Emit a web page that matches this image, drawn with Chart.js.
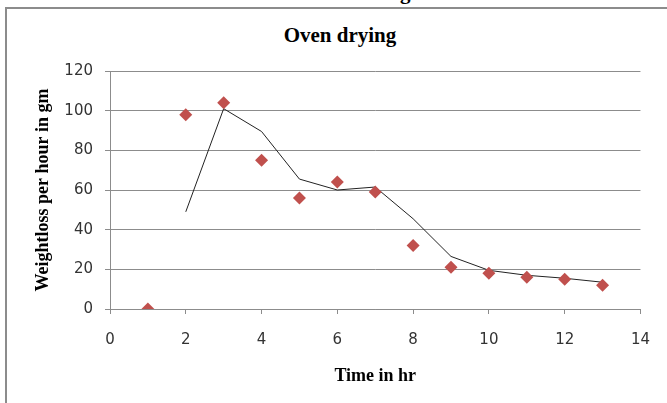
<!DOCTYPE html>
<html>
<head>
<meta charset="utf-8">
<script src="https://cdn.jsdelivr.net/npm/chart.js@4"></script>
<style>
  html, body { margin: 0; padding: 0; background: #fff; }
  #wrap { position: relative; width: 667px; height: 403px; overflow: hidden; }
  #frame { position: absolute; left: 5px; top: 7px; width: 700px; height: 500px;
           border-left: 2px solid #8c8c8c; border-top: 2px solid #8c8c8c; }
  #title { position: absolute; left: 0; width: 680px; top: 25px; text-align: center;
           font: bold 21px "Liberation Serif", serif; line-height: 21px; color: #000; }
  #cut { position: absolute; left: 400px; top: -18px; font: bold 21px "Liberation Serif", serif;
         line-height: 21px; color: #000; }
  canvas { position: absolute; left: 0; top: 0; }
</style>
</head>
<body>
<div id="wrap">
  <div id="frame"></div>
  <div id="cut">g</div>
  <div id="title">Oven drying</div>
  <canvas id="chart" width="667" height="403"></canvas>
</div>
<script>
// measured points
const timeHr = [1, 2, 3, 4, 5, 6, 7, 8, 9, 10, 11, 12, 13];
const weightLoss = [0, 98, 104, 75, 56, 64, 59, 32, 21, 18, 16, 15, 12];

// trend line
const trendHr = [2, 3, 4, 5, 6, 7, 8, 9, 10, 11, 12, 13];
const trendLoss = [49, 101, 89.5, 65.5, 60, 61.5, 45.5, 26.5, 19.5, 17, 15.5, 13.5];

const xTicks = [0, 2, 4, 6, 8, 10, 12, 14];
const yTicks = [0, 20, 40, 60, 80, 100, 120];

const tickFont = { family: 'DejaVu Sans', size: 15 };
const axisTitleFont = { family: 'Liberation Serif', size: 18, weight: 'bold' };

const ctx = document.getElementById('chart').getContext('2d');
const chart = new Chart(ctx, {
  type: 'scatter',
  data: {
    datasets: [
      {
        label: 'Weight loss',
        data: timeHr.map((t, i) => ({ x: t, y: weightLoss[i] })),
        pointStyle: 'rectRot', pointRadius: 6.5, pointHoverRadius: 6.5,
        backgroundColor: '#C0504D', borderColor: '#C0504D', borderWidth: 0,
        order: 0,
      },
      {
        label: 'Trend',
        type: 'line',
        data: trendHr.map((t, i) => ({ x: t, y: trendLoss[i] })),
        borderColor: '#222', borderWidth: 1, pointRadius: 0, fill: false, tension: 0,
        order: 1,
      },
    ],
  },
  options: {
    responsive: false,
    animation: false,
    devicePixelRatio: 1,
    layout: { padding: { top: 71, right: 24, bottom: 0, left: 0 } },
    plugins: { legend: { display: false }, tooltip: { enabled: false }, title: { display: false } },
    scales: {
      x: {
        type: 'linear', min: 0, max: 14,
        afterBuildTicks: (s) => { s.ticks = xTicks.map(v => ({ value: v })); },
        afterFit: (s) => { s.height = 94; },
        ticks: { font: tickFont, color: '#333', padding: 17, maxRotation: 0 },
        grid: { drawOnChartArea: false, drawTicks: true, tickLength: 5, color: '#8c8c8c' },
        border: { color: '#8c8c8c' },
        title: { display: true, text: 'Time in hr', font: axisTitleFont, color: '#000', padding: { top: 0, bottom: 16 } },
      },
      y: {
        type: 'linear', min: 0, max: 120,
        afterBuildTicks: (s) => { s.ticks = yTicks.map(v => ({ value: v })); },
        afterFit: (s) => { s.width = 110; },
        ticks: { font: tickFont, color: '#333', padding: 12 },
        grid: { color: '#8c8c8c', tickLength: 5 },
        border: { color: '#8c8c8c' },
        title: { display: true, text: 'Weightloss per hour in gm', font: axisTitleFont, color: '#000', padding: { top: 33, bottom: 0 } },
      },
    },
  },
});
</script>
</body>
</html>
